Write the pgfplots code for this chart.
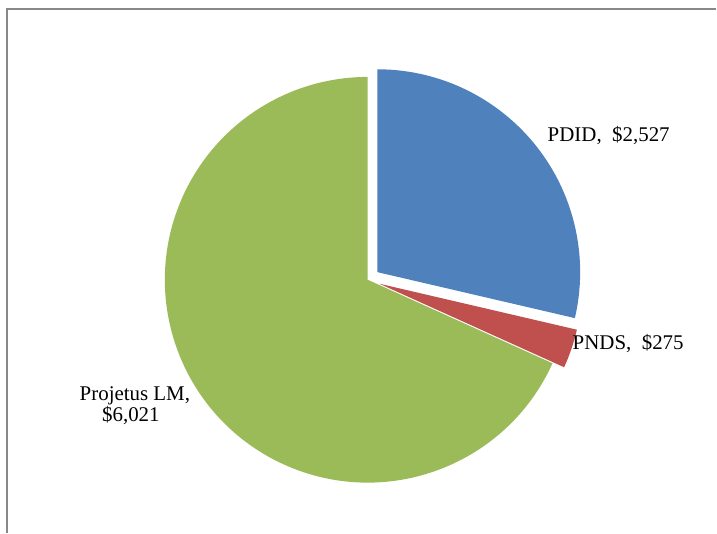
\documentclass[border=0pt]{standalone}
\usepackage{pgfplots}
\pgfplotsset{compat=1.18}
\usepackage{fontspec}
\setmainfont{Liberation Serif}
\definecolor{cA}{HTML}{4F81BD}
\definecolor{cB}{HTML}{C0504D}
\definecolor{cC}{HTML}{9BBB59}
\definecolor{frame}{HTML}{888888}
\begin{document}
\begin{tikzpicture}
% values
\def\vA{2527}\def\vB{275}\def\vC{6021}
\pgfmathsetmacro{\tot}{\vA+\vB+\vC}
\pgfmathsetmacro{\aO}{90}
\pgfmathsetmacro{\aA}{90-\vA/\tot*360}
\pgfmathsetmacro{\aB}{\aA-\vB/\tot*360}
\pgfmathsetmacro{\aC}{\aB-\vC/\tot*360}
\pgfmathsetmacro{\mA}{(\aO+\aA)/2}
\pgfmathsetmacro{\mB}{(\aA+\aB)/2}
\def\R{203bp}
\def\ex{12.3bp}
\begin{axis}[width=717bp,height=533bp,scale only axis,
  xmin=0,xmax=717,ymin=0,ymax=533,axis lines=none,ticks=none,clip=false]
\path (axis cs:0,0) (axis cs:717,533);
\draw[frame,line width=1.2bp] (axis cs:7,0) -- (axis cs:7,524) -- (axis cs:717,524);
% Projetus LM
\fill[cC] (axis cs:368,253) -- ++(\aB:\R) arc[start angle=\aB, end angle=\aC, radius=\R] -- cycle;
% PDID
\fill[cA] (axis cs:368,253) ++(\mA:\ex) -- ++(\aO:\R) arc[start angle=\aO, end angle=\aA, radius=\R] -- cycle;
% PNDS
\fill[cB] (axis cs:368,253) ++(\mB:\ex) -- ++(\aA:\R) arc[start angle=\aA, end angle=\aB, radius=\R] -- cycle;
\node[anchor=base west,inner sep=0pt,font=\fontsize{21}{24}\selectfont] at (axis cs:548,391) {PDID,~~\$2,527};
\node[anchor=base west,inner sep=0pt,font=\fontsize{21}{24}\selectfont] at (axis cs:573,183) {PNDS,~~\$275};
\node[anchor=base,inner sep=0pt,font=\fontsize{21}{24}\selectfont] at (axis cs:135,132.3) {Projetus LM,};
\node[anchor=base,inner sep=0pt,font=\fontsize{21}{24}\selectfont] at (axis cs:131,111.3) {\$6,021};
\end{axis}
\end{tikzpicture}
\end{document}
